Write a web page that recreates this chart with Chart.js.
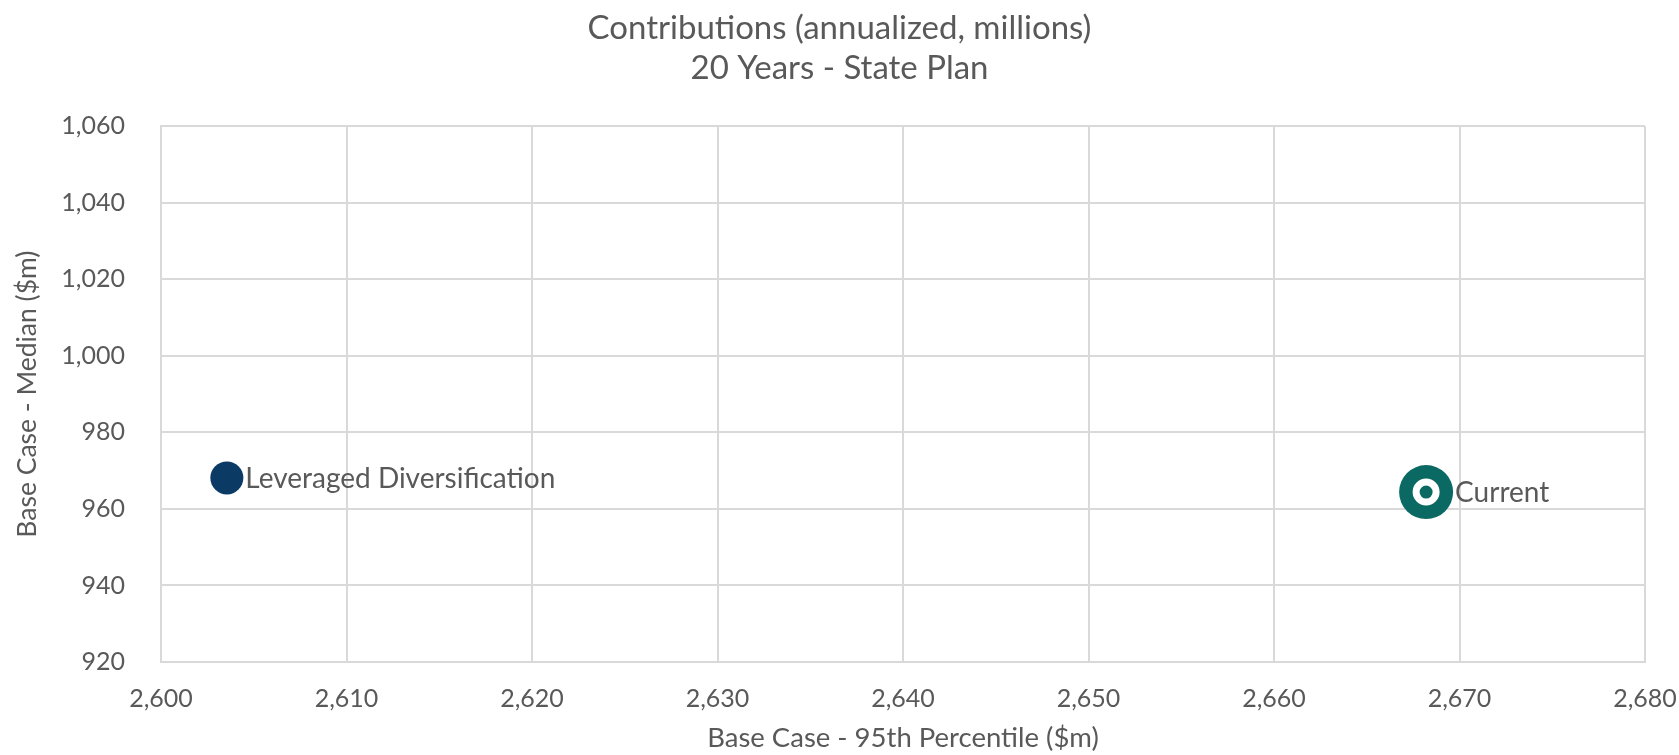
<!DOCTYPE html>
<html>
<head>
<meta charset="utf-8">
<script src="https://cdn.jsdelivr.net/npm/chart.js@4/dist/chart.umd.min.js"></script>
<style>
body{margin:0;background:#fff;}
</style>
</head>
<body>
<canvas id="grafico" width="1679" height="755"></canvas>
<script>
// datos
var nombres = ['Leveraged Diversification', 'Current'];
var percentil95 = [2603.55, 2668.2];
var mediana = [968.1, 964.4];
var colores = ['#0b3a64', '#0a6a63'];
var ticksX = [2600, 2680, 10];
var ticksY = [920, 1060, 20];

var gris = '#595959';
var fuente = 'Lato, "Open Sans", sans-serif';

// etiquetas al lado de cada punto
var etiquetas = {
	id: 'etiquetas',
	afterDatasetsDraw: function(chart){
		var ctx = chart.ctx;
		ctx.save();
		ctx.font = '28px ' + fuente;
		ctx.fillStyle = gris;
		ctx.textBaseline = 'middle';
		ctx.textAlign = 'left';
		for (var i = 0; i < nombres.length; i++) {
			var p = chart.getDatasetMeta(i).data[0];
			var r = chart.data.datasets[i].pointRadius;
			ctx.fillText(nombres[i], p.x + r + 2, p.y + 1);
		}
		ctx.restore();
	}
};

var datos = {
	type: 'scatter',
	data: {
		datasets: [{
			label: nombres[0],
			data: [{x: percentil95[0], y: mediana[0]}],
			backgroundColor: colores[0],
			borderWidth: 0,
			pointRadius: 16.5,
			pointHoverRadius: 16.5,
			order: 1
		}, {
			label: nombres[1],
			data: [{x: percentil95[1], y: mediana[1]}],
			backgroundColor: colores[1],
			borderWidth: 0,
			pointRadius: 27,
			pointHoverRadius: 27,
			order: 2
		}, {
			label: nombres[1] + ' (centro)',
			data: [{x: percentil95[1], y: mediana[1]}],
			backgroundColor: colores[1],
			borderColor: '#ffffff',
			borderWidth: 7,
			pointRadius: 10,
			pointHoverRadius: 10,
			order: 0
		}]
	},
	options: {
		responsive: false,
		animation: false,
		layout: {padding: 0},
		plugins: {
			legend: {display: false},
			tooltip: {enabled: false},
			title: {
				display: true,
				text: ['Contributions (annualized, millions)', '20 Years - State Plan'],
				color: gris,
				font: {family: fuente, size: 33, weight: 'normal', lineHeight: 1.2},
				padding: {top: 9, bottom: 38}
			}
		},
		scales: {
			x: {
				type: 'linear',
				min: ticksX[0],
				max: ticksX[1],
				border: {color: '#d9d9d9', width: 2},
				grid: {color: '#d9d9d9', lineWidth: 2, drawTicks: false},
				ticks: {
					stepSize: ticksX[2],
					color: gris,
					padding: 22,
					font: {family: fuente, size: 25},
					callback: function(v){ return v.toLocaleString('en-US'); }
				},
				title: {
					display: true,
					text: 'Base Case - 95th Percentile ($m)',
					color: gris,
					font: {family: fuente, size: 27.5},
					padding: {top: 0, bottom: 0}
				},
				afterFit: function(s){ s.height = 93; s.paddingLeft = 0; s.paddingRight = 34; }
			},
			y: {
				type: 'linear',
				min: ticksY[0],
				max: ticksY[1],
				border: {color: '#d9d9d9', width: 2},
				grid: {color: '#d9d9d9', lineWidth: 2, drawTicks: false},
				ticks: {
					stepSize: ticksY[2],
					color: gris,
					padding: 36,
					font: {family: fuente, size: 25},
					callback: function(v){ return v.toLocaleString('en-US'); }
				},
				title: {
					display: true,
					text: 'Base Case - Median ($m)',
					color: gris,
					font: {family: fuente, size: 26.5},
					padding: {top: 12, bottom: 0}
				},
				afterFit: function(s){ s.width = 161; s.paddingTop = 0; s.paddingBottom = 0; }
			}
		}
	},
	plugins: [etiquetas]
};

var canvas = document.getElementById('grafico').getContext('2d');
window.grafico = new Chart(canvas, datos);
</script>
</body>
</html>
